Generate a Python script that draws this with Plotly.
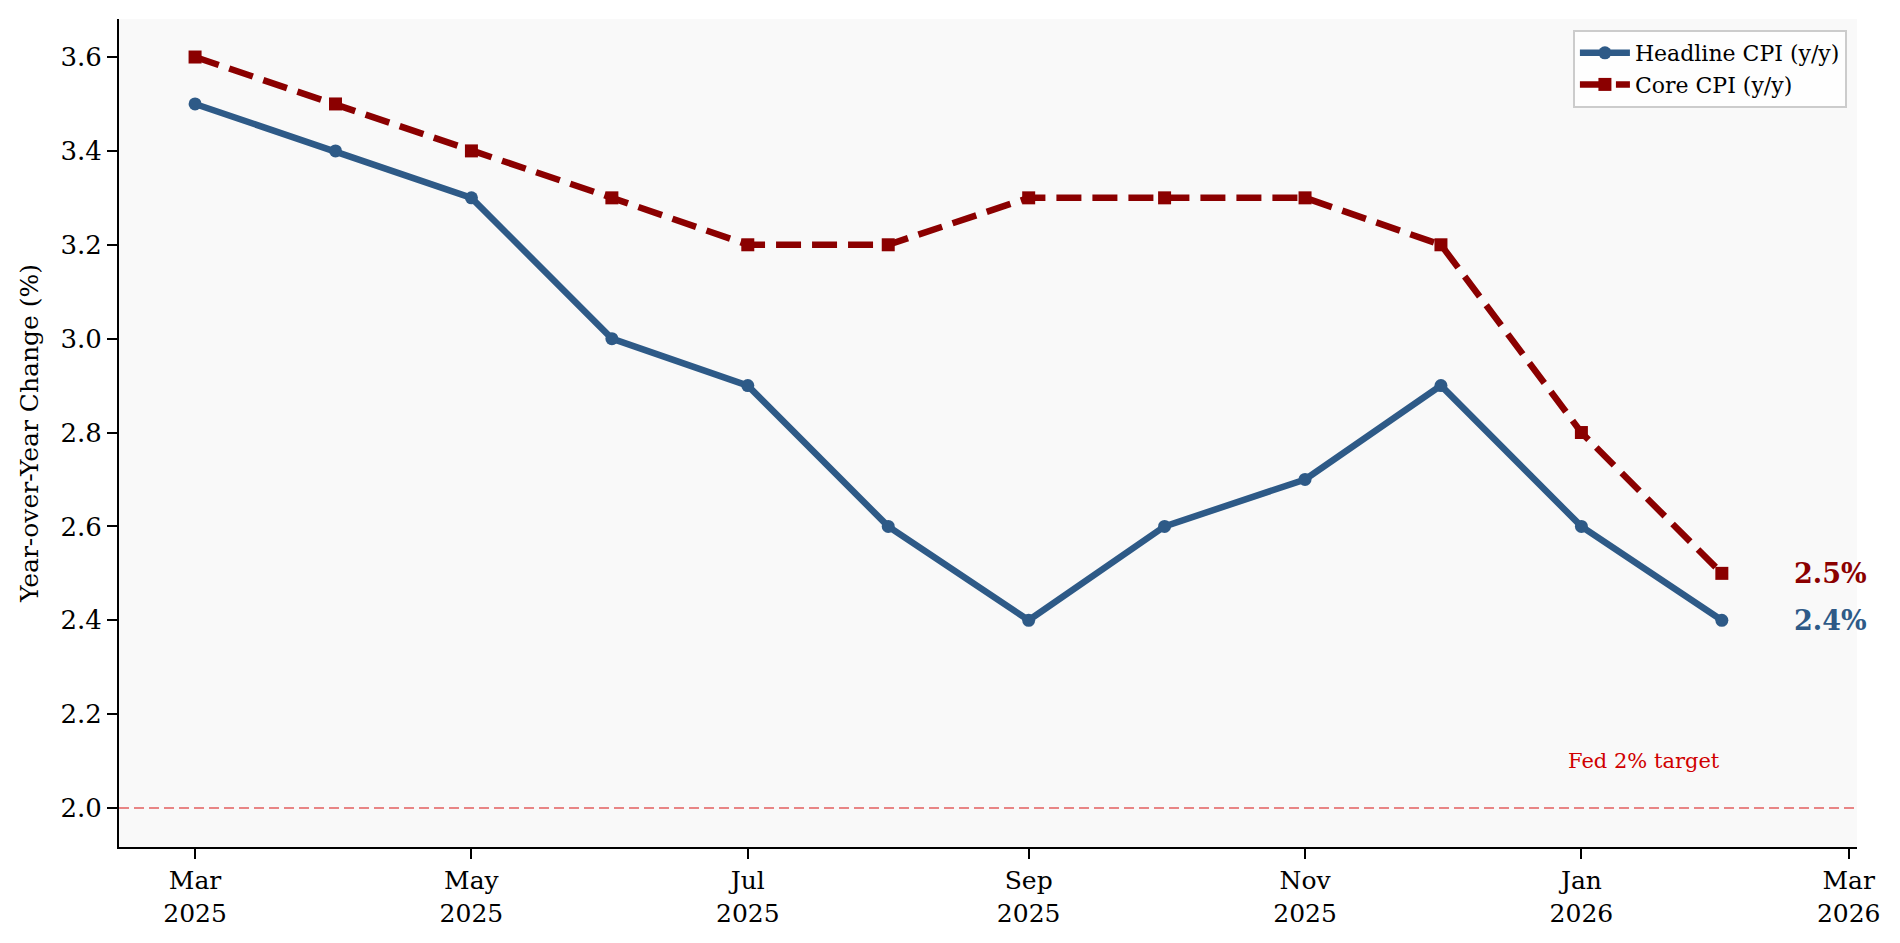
import plotly.graph_objects as go

months = ["2025-03-01", "2025-04-01", "2025-05-01", "2025-06-01", "2025-07-01", "2025-08-01",
          "2025-09-01", "2025-10-01", "2025-11-01", "2025-12-01", "2026-01-01", "2026-02-01"]
headline = [3.5, 3.4, 3.3, 3.0, 2.9, 2.6, 2.4, 2.6, 2.7, 2.9, 2.6, 2.4]
core = [3.6, 3.5, 3.4, 3.3, 3.2, 3.2, 3.3, 3.3, 3.3, 3.2, 2.8, 2.5]
tick_dates = ["2025-03-01", "2025-05-01", "2025-07-01", "2025-09-01", "2025-11-01", "2026-01-01", "2026-03-01"]
tick_labels = ["Mar<br>2025", "May<br>2025", "Jul<br>2025", "Sep<br>2025", "Nov<br>2025", "Jan<br>2026", "Mar<br>2026"]
y_ticks = [2.0, 2.2, 2.4, 2.6, 2.8, 3.0, 3.2, 3.4, 3.6]
target = 2.0

BLUE = "#2E5A87"
RED = "#8B0000"
FONT = "DejaVu Serif"

fig = go.Figure()
fig.add_trace(go.Scatter(
    x=months, y=headline, mode="lines+markers", name="Headline CPI (y/y)",
    line=dict(color=BLUE, width=6.5),
    marker=dict(symbol="circle", size=13, color=BLUE),
))
fig.add_trace(go.Scatter(
    x=months, y=core, mode="lines+markers", name="Core CPI (y/y)",
    line=dict(color=RED, width=6.5, dash="25px,11px"),
    marker=dict(symbol="square", size=13, color=RED),
))

fig.add_shape(type="line", xref="paper", x0=0, x1=1, yref="y", y0=target, y1=target,
              line=dict(color="#E88585", width=2, dash="10px,5px"), layer="below")
fig.add_annotation(x=months[-1], y=2.1, text="Fed 2% target", showarrow=False,
                   xanchor="right", yanchor="middle",
                   font=dict(family=FONT, size=21, color="#D00000"))
fig.add_annotation(x=months[-1], y=core[-1], text="<b>%.1f%%</b>" % core[-1], showarrow=False,
                   xanchor="left", yanchor="middle", xshift=70,
                   font=dict(family=FONT, size=27, color=RED))
fig.add_annotation(x=months[-1], y=headline[-1], text="<b>%.1f%%</b>" % headline[-1], showarrow=False,
                   xanchor="left", yanchor="middle", xshift=70,
                   font=dict(family=FONT, size=27, color=BLUE))

fig.update_layout(
    width=1884, height=927,
    margin=dict(l=111, r=35, t=11, b=88),
    paper_bgcolor="white", plot_bgcolor="#F9F9F9",
    font=dict(family=FONT, size=25, color="black"),
    showlegend=True,
    legend=dict(x=0.9942, y=0.9867, xanchor="right", yanchor="top",
                bgcolor="rgba(255,255,255,0.8)", bordercolor="#CCCCCC", borderwidth=2,
                itemwidth=50,
                font=dict(family=FONT, size=22, color="black"), tracegroupgap=0),
)
fig.update_xaxes(
    type="date", range=["2025-02-12 05:00", "2026-03-02 20:00"], automargin=False,
    tickmode="array", tickvals=tick_dates, ticktext=tick_labels,
    showgrid=False, zeroline=False, showline=True, linecolor="black", linewidth=2,
    ticks="outside", ticklen=10, tickwidth=2, tickcolor="black",
    tickfont=dict(family=FONT, size=25, color="black"),
)
fig.update_yaxes(
    range=[1.917, 3.681], automargin=False, tickmode="array", tickvals=y_ticks,
    ticktext=["%.1f" % v for v in y_ticks],
    showgrid=False, zeroline=False, showline=True, linecolor="black", linewidth=2,
    ticks="outside", ticklen=10, tickwidth=2, tickcolor="black",
    tickfont=dict(family=FONT, size=26, color="black"),
    title=dict(text="Year-over-Year Change (%)", font=dict(family=FONT, size=25, color="black")),
)

fig.write_html("out.html")
